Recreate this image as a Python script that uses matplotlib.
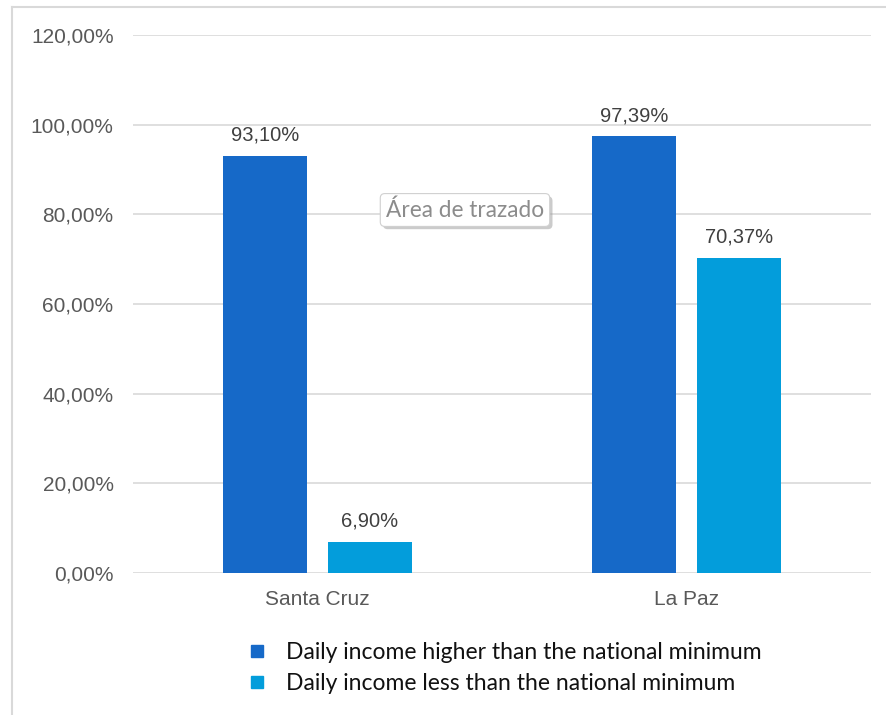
import matplotlib.pyplot as plt
import matplotlib.patheffects as pe
from matplotlib.lines import Line2D
import numpy as np

categories = ['Santa Cruz', 'La Paz']
higher = [93.10, 97.39]
lower = [6.90, 70.37]
series_names = ['Daily income higher than the national minimum',
                'Daily income less than the national minimum']
colors = ['#1669C8', '#039DDB']
yticks = [0, 20, 40, 60, 80, 100, 120]


def pct(v):
    return ('%.2f%%' % v).replace('.', ',')


fig = plt.figure(figsize=(8.86, 7.15), dpi=100)
ax = fig.add_axes([133 / 886, 1 - 573 / 715, 738 / 886, 538 / 715])

x = np.arange(len(categories))
w = 0.228
off = 0.142
b1 = ax.bar(x - off, higher, w, color=colors[0], zorder=3)
b2 = ax.bar(x + off, lower, w, color=colors[1], zorder=3)

for bars, vals in [(b1, higher), (b2, lower)]:
    for rect, v in zip(bars, vals):
        ax.annotate(pct(v), (rect.get_x() + rect.get_width() / 2, v),
                    xytext=(0, 8), textcoords='offset points',
                    ha='center', va='bottom', fontsize=14.5,
                    color='#404040', family='Liberation Sans')

ax.set_xlim(-0.5, 1.5)
ax.set_ylim(0, 120)
ax.set_yticks(yticks)
ax.set_yticklabels([pct(t) for t in yticks], family='Liberation Sans',
                   fontsize=15, color='#595959')
ax.set_xticks(x)
ax.set_xticklabels(categories, family='Liberation Sans', fontsize=15,
                   color='#595959')
ax.tick_params(axis='both', length=0)
ax.tick_params(axis='y', pad=14)
ax.tick_params(axis='x', pad=12)
ax.grid(axis='y', color='#d9d9d9', linewidth=1.2, zorder=0)
for s in ax.spines.values():
    s.set_visible(False)

# outer frame (left and top edges only)
fig.add_artist(Line2D([12 / 886, 12 / 886], [0, 1 - 7 / 715],
                      transform=fig.transFigure, color='#d9d9d9', lw=1.5))
fig.add_artist(Line2D([12 / 886, 1], [1 - 7 / 715, 1 - 7 / 715],
                      transform=fig.transFigure, color='#d9d9d9', lw=1.5))

# legend
handles = [Line2D([], [], marker='s', ls='none', markersize=8.5,
                  markerfacecolor=c, markeredgecolor=c) for c in colors]
fig.legend(handles, series_names, loc='upper left',
           bbox_to_anchor=(246 / 886, 1 - 642 / 715), frameon=False,
           prop={'family': 'Lato', 'size': 16.5}, handletextpad=0.76,
           labelspacing=0.43, handlelength=1.0, borderpad=0,
           borderaxespad=0, labelcolor='#111111')

# hover tip over the plot area
tip = fig.text(465 / 886, 1 - 210 / 715, 'Área de trazado', ha='center',
               va='center', fontsize=16.3, family='Lato', color='#8c8c8c',
               bbox=dict(boxstyle='round,pad=0.25,rounding_size=0.2',
                         fc='white', ec='#d0d0d0', lw=0.8))
tip.get_bbox_patch().set_path_effects([
    pe.SimplePatchShadow(offset=(2, -2), shadow_rgbFace='#999999', alpha=0.5),
    pe.Normal()])

fig.savefig('out.png', dpi=100)
